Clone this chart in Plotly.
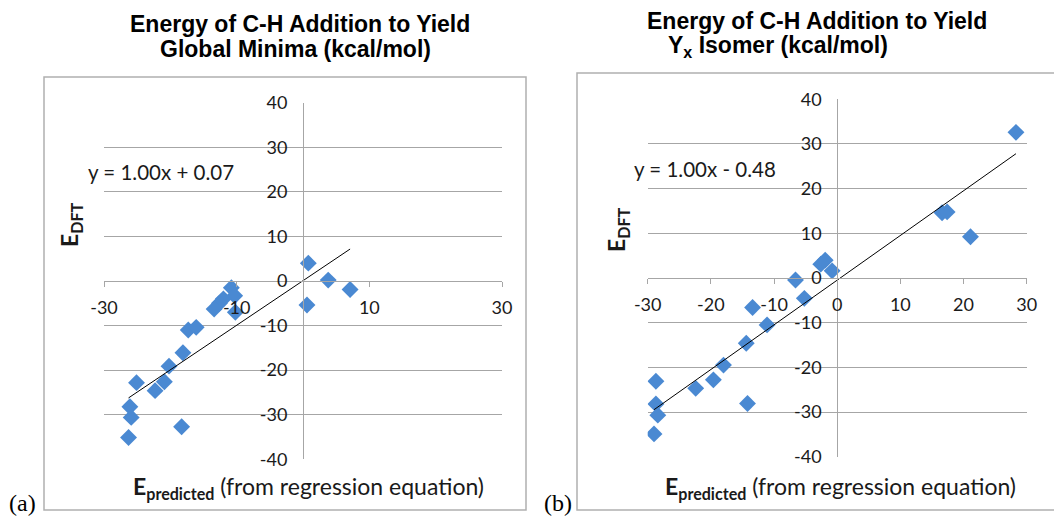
import numpy as np
import plotly.graph_objects as go

# ---- data ----
a_x = [0.8, 3.8, 7.1, 0.6, -10.8, -10.3, -12.0, -12.6, -13.4, -10.2, -17.3, -16.1,
       -18.1, -20.2, -20.9, -22.3, -25.1, -26.1, -25.9, -26.3, -18.3]
a_y = [4.0, 0.2, -1.9, -5.4, -1.5, -3.3, -4.0, -5.0, -6.3, -7.0, -11.0, -10.4,
       -16.1, -19.1, -22.6, -24.6, -22.8, -28.2, -30.6, -35.1, -32.7]
a_fit = [1.00, 0.07]

b_x = [28.3, 16.6, 17.4, 21.1, -1.9, -2.6, -0.8, -6.6, -5.2, -13.4, -11.1, -14.4,
       -18.0, -19.6, -22.4, -28.7, -28.7, -28.4, -29.0, -14.2]
b_y = [32.6, 14.6, 14.8, 9.25, 4.0, 3.1, 1.6, -0.45, -4.55, -6.6, -10.5, -14.6,
       -19.5, -22.8, -24.7, -23.1, -28.2, -30.7, -34.9, -28.1]
b_fit = [1.00, -0.48]

a_xticks = [-30, -10, 10, 30]
b_xticks = [-30, -20, -10, 0, 10, 20, 30]
yticks = [-40, -30, -20, -10, 0, 10, 20, 30, 40]

W, H = 1054, 516
def px(x):
    return x / W
def py(y):
    return 1 - y / H

MARK = "#4A89D2"
GRID = "#A6A6A6"
TICKFONT = dict(family="Lato, Open Sans, sans-serif", size=18, color="#1a1a1a")

fig = go.Figure()

def add_panel(xs, ys, fit, xaxis, yaxis):
    fig.add_trace(go.Scatter(x=xs, y=ys, mode="markers", xaxis=xaxis, yaxis=yaxis,
                             marker=dict(symbol="diamond", size=13, color=MARK,
                                         line=dict(width=0)),
                             showlegend=False, hoverinfo="x+y"))
    lx = np.array([min(xs), max(xs)])
    fig.add_trace(go.Scatter(x=lx, y=fit[0] * lx + fit[1], mode="lines",
                             xaxis=xaxis, yaxis=yaxis,
                             line=dict(color="black", width=1),
                             showlegend=False, hoverinfo="skip"))

add_panel(a_x, a_y, a_fit, "x", "y")
add_panel(b_x, b_y, b_fit, "x2", "y2")

# plot-area domains (pixels from reference)
a_dx = [px(104), px(502)]
a_dy = [py(459.3), py(102.7)]
b_dx = [px(647.7), px(1026.7)]
b_dy = [py(456.7), py(99.3)]

def xax(dom, ydom, ticks):
    return dict(domain=dom, range=[-30, 30], tickvals=ticks, ticktext=[str(t) for t in ticks],
                anchor="free", position=(ydom[0] + ydom[1]) / 2, automargin=False,
                showline=True, linecolor=GRID, linewidth=1,
                ticks="outside", ticklen=5, tickcolor=GRID,
                showgrid=False, zeroline=False, tickfont=TICKFONT,
                ticklabelstandoff=5, fixedrange=True)

def yax(dom, xdom):
    return dict(domain=dom, range=[-40, 40], tickvals=yticks, ticktext=[str(t) for t in yticks],
                anchor="free", position=(xdom[0] + xdom[1]) / 2, automargin=False,
                showline=True, linecolor=GRID, linewidth=1,
                ticks="", showgrid=True, gridcolor=GRID, gridwidth=1,
                zeroline=False, tickfont=TICKFONT, ticklabelstandoff=12, fixedrange=True)

fig.update_layout(
    width=W, height=H, margin=dict(l=0, r=0, t=0, b=0, autoexpand=False),
    paper_bgcolor="white", plot_bgcolor="rgba(0,0,0,0)",
    xaxis=xax(a_dx, a_dy, a_xticks), yaxis=yax(a_dy, a_dx),
    xaxis2=xax(b_dx, b_dy, b_xticks), yaxis2=yax(b_dy, b_dx),
)

# chart-area boxes
fig.add_shape(type="rect", xref="paper", yref="paper", x0=px(44), x1=px(526), y0=py(510), y1=py(77),
              line=dict(color="#B0B0B0", width=1.5), layer="below")
fig.add_shape(type="rect", xref="paper", yref="paper", x0=px(577), x1=px(1060), y0=py(510), y1=py(73),
              line=dict(color="#B0B0B0", width=1.5), layer="below")

TFONT = dict(family="Liberation Sans, Arial, sans-serif", size=23, color="black")
def note(text, x, y, xanchor="left", font=None, angle=0):
    fig.add_annotation(text=text, x=px(x), y=py(y), xref="paper", yref="paper",
                       xanchor=xanchor, yanchor="middle", showarrow=False,
                       font=font or TFONT, textangle=angle)

# titles
note("<b>Energy of C-H Addition to Yield</b>", 128, 24)
note("<b>Global Minima (kcal/mol)</b>", 158, 49)
note("<b>Energy of C-H Addition to Yield</b>", 645, 21)
note("<b>Y<sub>x</sub> Isomer (kcal/mol)</b>", 666, 47)

# equations
EQF = dict(family="Lato, Open Sans, sans-serif", size=20.5, color="#1a1a1a")
note("y = 1.00x + 0.07", 86, 172, font=EQF)
note("y = 1.00x - 0.48", 632, 169, font=EQF)

# axis titles
LF = dict(family="Lato, Open Sans, sans-serif", size=23, color="#1a1a1a")
note("<b>E<sub>predicted</sub></b> (from regression equation)", 308, 487, xanchor="center", font=LF)
note("<b>E<sub>predicted</sub></b> (from regression equation)", 840, 487, xanchor="center", font=LF)
note("<b>E<sub>DFT</sub></b>", 70, 225, xanchor="center", font=LF, angle=-90)
note("<b>E<sub>DFT</sub></b>", 617, 230, xanchor="center", font=LF, angle=-90)

# panel labels
PF = dict(family="Liberation Serif, Times New Roman, serif", size=24, color="black")
note("(a)", 22, 503, xanchor="center", font=PF)
note("(b)", 558, 503, xanchor="center", font=PF)

fig.write_html("out.html", config={"displayModeBar": False},
               post_script="document.body.style.margin='0';window.scrollTo(0,0);")
